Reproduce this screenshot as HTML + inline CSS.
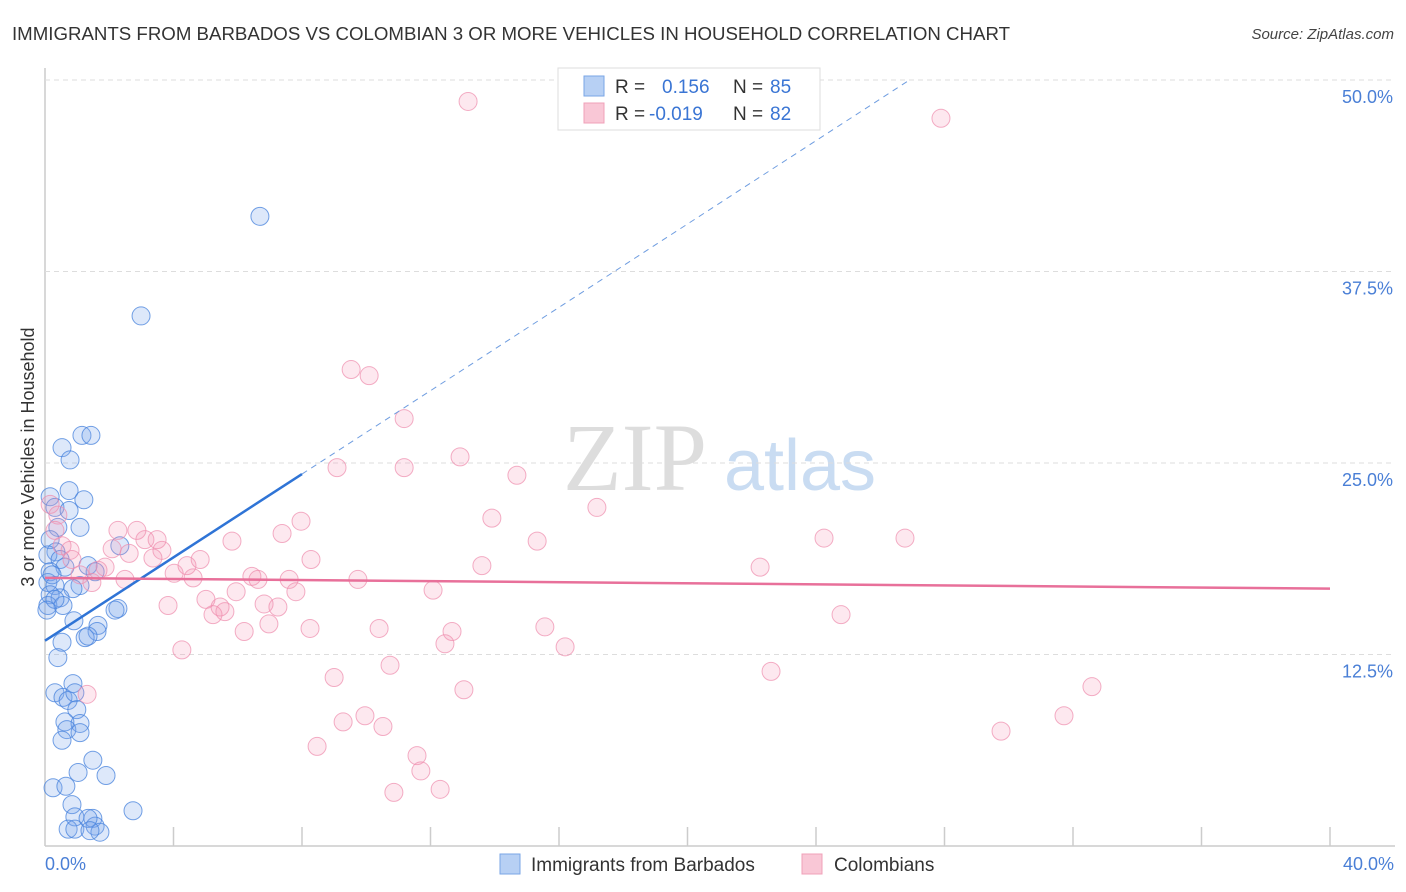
<!DOCTYPE html>
<html><head><meta charset="utf-8"><style>
body{margin:0;background:#fff;font-family:"Liberation Sans",sans-serif}
svg{display:block}
</style></head><body>
<svg id="chart" width="1406" height="892" xmlns="http://www.w3.org/2000/svg">
<text x="12" y="40" font-size="18" fill="#333" textLength="998" lengthAdjust="spacingAndGlyphs">IMMIGRANTS FROM BARBADOS VS COLOMBIAN 3 OR MORE VEHICLES IN HOUSEHOLD CORRELATION CHART</text>
<text x="1394" y="39" font-size="15" fill="#444" font-style="italic" text-anchor="end">Source: ZipAtlas.com</text>
<g>
<text x="635" y="490" font-size="96" fill="#ddd" font-family="Liberation Serif,serif" text-anchor="middle">ZIP</text>
<text x="800" y="490" font-size="72" fill="#c9dcf2" text-anchor="middle">atlas</text>
</g>
<g id="grid"></g>
<g id="marks"></g>
<text transform="translate(34,457) rotate(-90)" font-size="18" fill="#333" text-anchor="middle">3 or more Vehicles in Household</text>
<text x="45" y="870" font-size="18" fill="#4a7fd6">0.0%</text>
<text x="1394" y="870" font-size="18" fill="#4a7fd6" text-anchor="end">40.0%</text>
<g>
<rect x="558" y="68" width="262" height="62" fill="#fff" stroke="#ddd"/>
<rect x="584" y="76" width="20" height="20" fill="#b7d0f4" stroke="#7aa6e6"/>
<rect x="584" y="103" width="20" height="20" fill="#f9c7d6" stroke="#f0a0b8"/>
<text x="615" y="93" font-size="19" fill="#333">R = </text><text x="662" y="93" font-size="19" fill="#3a75d4">0.156</text>
<text x="733" y="93" font-size="19" fill="#333">N = </text><text x="770" y="93" font-size="19" fill="#3a75d4">85</text>
<text x="615" y="120" font-size="19" fill="#333">R = </text><text x="649" y="120" font-size="19" fill="#3a75d4">-0.019</text>
<text x="733" y="120" font-size="19" fill="#333">N = </text><text x="770" y="120" font-size="19" fill="#3a75d4">82</text>
</g>
<g>
<rect x="500" y="854" width="20" height="20" fill="#b7d0f4" stroke="#7aa6e6"/>
<text x="531" y="871" font-size="19" fill="#333">Immigrants from Barbados</text>
<rect x="802" y="854" width="20" height="20" fill="#f9c7d6" stroke="#f0a0b8"/>
<text x="834" y="871" font-size="19" fill="#333">Colombians</text>
</g>
</svg>
<script>
const yTicks=[12.5,25,37.5,50];
const yTickLabels=["12.5%","25.0%","37.5%","50.0%"];
const xTicks=[4,8,12,16,20,24,28,32,36,40];
const blueX=[6.69,2.99,0.53,1.15,1.43,0.78,0.75,1.21,0.16,0.31,0.75,1.09,0.40,0.16,2.33,0.34,0.09,0.47,0.62,1.34,0.16,1.56,0.09,0.31,1.09,0.87,0.16,0.47,0.09,0.56,0.31,2.27,2.18,0.90,1.65,1.62,1.25,1.34,0.53,0.40,0.31,0.87,0.56,0.72,0.93,0.99,0.62,1.09,0.68,1.09,0.53,1.49,1.03,1.90,0.25,0.65,0.84,2.74,0.93,1.49,0.72,0.93,1.56,1.71,1.34,1.40,0.06,0.22];
const blueY=[41.1,34.6,26.0,26.8,26.8,25.2,23.2,22.6,22.8,22.1,21.9,20.8,20.8,20.0,19.6,19.2,19.0,18.7,18.2,18.3,17.9,17.9,17.2,17.0,17.0,16.8,16.4,16.2,15.7,15.7,16.1,15.5,15.4,14.7,14.4,14.0,13.6,13.7,13.3,12.3,10.0,10.6,9.7,9.5,10.0,8.9,8.1,8.0,7.6,7.4,6.9,5.6,4.8,4.6,3.8,3.9,2.7,2.3,1.9,1.8,1.1,1.1,1.3,0.9,1.8,1.0,15.4,17.7];
const pinkX=[13.17,27.89,9.53,10.09,11.18,9.09,11.18,12.92,14.69,17.18,13.91,7.97,7.38,15.32,24.25,26.77,5.82,8.28,13.60,22.26,9.74,7.60,6.44,6.63,4.02,4.61,4.42,4.83,3.64,3.11,2.86,2.27,3.49,2.09,2.62,3.36,2.49,1.87,1.46,12.08,7.81,5.95,5.01,6.82,3.83,5.45,7.25,5.60,5.23,24.78,6.97,8.25,10.40,12.67,15.56,12.45,6.20,16.19,4.26,10.74,22.60,9.00,13.04,32.59,1.31,31.72,9.96,9.28,10.52,29.76,8.47,11.58,11.70,10.86,12.30,0.16,0.40,0.53,0.78,0.84,0.31,1.65,1.09];
const pinkY=[48.6,47.5,31.1,30.7,27.9,24.7,24.7,25.4,24.2,22.1,21.4,21.2,20.4,19.9,20.1,20.1,19.9,18.7,18.3,18.2,17.4,17.4,17.6,17.4,17.8,17.5,18.3,18.7,19.3,20.0,20.6,20.6,20.0,19.4,19.1,18.8,17.4,18.2,17.2,16.7,16.6,16.6,16.1,15.8,15.7,15.6,15.6,15.3,15.1,15.1,14.5,14.2,14.2,14.0,14.3,13.2,14.0,13.0,12.8,11.8,11.4,11.0,10.2,10.4,9.9,8.5,8.5,8.1,7.8,7.5,6.5,5.9,4.9,3.5,3.7,22.3,21.6,19.6,19.3,18.7,20.6,18.0,17.7];
const blueTrend=[13.4,1.36];
const pinkTrend=[17.5,-0.0175];
const X0=45,X1=1330,Y0=846,YTOP=80;
const xs=v=>X0+v/40*(X1-X0);
const ys=v=>Y0-v/50*(Y0-YTOP);
const NS="http://www.w3.org/2000/svg";
function mk(tag,attrs,parent){const e=document.createElementNS(NS,tag);for(const k in attrs)e.setAttribute(k,attrs[k]);parent.appendChild(e);return e;}
const grid=document.getElementById('grid');
const marks=document.getElementById('marks');
let ax=mk('line',{x1:45,y1:68,x2:45,y2:846,stroke:'#ccc','stroke-width':1.5},grid);


let bx=mk('line',{x1:45,y1:846,x2:1395,y2:846,stroke:'#ccc','stroke-width':1.5},grid);


yTicks.forEach((t,i)=>{
  const g=mk('line',{x1:45,x2:1395,y1:ys(t),y2:ys(t),stroke:'#ddd','stroke-dasharray':'5,4'},grid);
  
  
  const l=mk('text',{x:1393,y:ys(t)+23,'font-size':18,fill:'#4a7fd6','text-anchor':'end'},grid);
  l.textContent=yTickLabels[i];
  
  
});
xTicks.forEach(t=>{
  const k=mk('line',{x1:xs(t),x2:xs(t),y1:827,y2:846,stroke:'#ccc','stroke-width':1.5},grid);
  
  
});
blueX.forEach((x,i)=>{
  const c=mk('circle',{cx:xs(x),cy:ys(blueY[i]),r:9,fill:'rgba(120,165,235,0.25)',stroke:'rgba(70,130,220,0.75)','stroke-width':1},marks);
  
  
});
pinkX.forEach((x,i)=>{
  const c=mk('circle',{cx:xs(x),cy:ys(pinkY[i]),r:9,fill:'rgba(245,150,180,0.22)',stroke:'rgba(238,140,172,0.7)','stroke-width':1},marks);
  
  
});
const bEnd=(50-blueTrend[0])/blueTrend[1];
let bs=mk('line',{x1:xs(0),y1:ys(blueTrend[0]),x2:xs(8),y2:ys(blueTrend[0]+blueTrend[1]*8),stroke:'#2f74d6','stroke-width':2.5},marks);


let bd=mk('line',{x1:xs(8),y1:ys(blueTrend[0]+blueTrend[1]*8),x2:xs(bEnd),y2:ys(50),stroke:'#6f9de0','stroke-width':1,'stroke-dasharray':'6,5'},marks);


let pl=mk('line',{x1:xs(0),y1:ys(pinkTrend[0]),x2:xs(40),y2:ys(pinkTrend[0]+pinkTrend[1]*40),stroke:'#e8709a','stroke-width':2.5},marks);


</script>
</body></html>
